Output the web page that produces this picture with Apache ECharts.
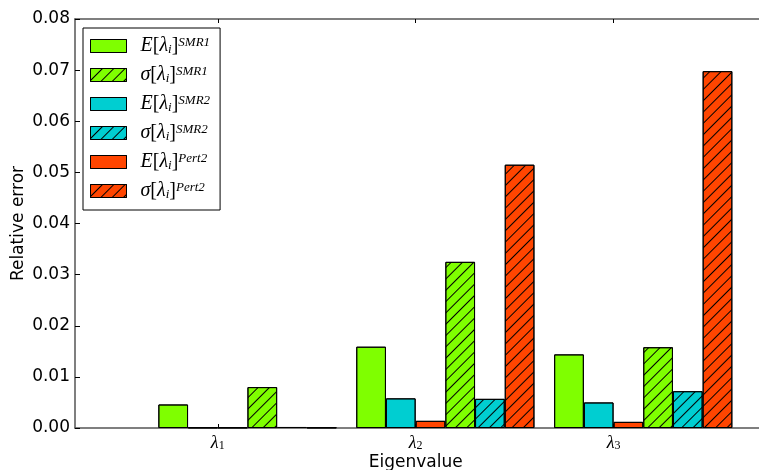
<!DOCTYPE html>
<html><head><meta charset="utf-8">
<script src="https://cdn.jsdelivr.net/npm/echarts@6/dist/echarts.min.js"></script>
<style>html,body{margin:0;padding:0;background:#fff}#c{width:759px;height:470px}</style>
</head><body><div id="c"></div>
<script>
const categories = ['λ1', 'λ2', 'λ3'];
const subscripts = ['1', '2', '3'];
const E_SMR1 = [0.0046, 0.0159, 0.0144];
const E_SMR2 = [0.0001, 0.0058, 0.0050];
const E_Pert2 = [0.0001, 0.0014, 0.0012];
const S_SMR1 = [0.0080, 0.0325, 0.0158];
const S_SMR2 = [0.0002, 0.0057, 0.0072];
const S_Pert2 = [0.0001, 0.0515, 0.0698];

const GREEN = '#7FFF00', CYAN = '#00CED1', RED = '#FF4500';
const SPINE = '#555';
const hatch = {symbol:'rect', symbolSize:1, color:'#000', dashArrayX:[1,0], dashArrayY:[1,7], rotation: -Math.PI/4};
const noHatch = {symbol:'rect', symbolSize:1, color:'rgba(0,0,0,0)', dashArrayX:[1,0], dashArrayY:[1,7]};

const legendText = {
  'E_SMR1': '{sp|}{e|E}{b|[}{l|λ}{s|i}{b|]}{p|SMR1}',
  'S_SMR1': '{sp|}{e|σ}{b|[}{l|λ}{s|i}{b|]}{p|SMR1}',
  'E_SMR2': '{sp|}{e|E}{b|[}{l|λ}{s|i}{b|]}{p|SMR2}',
  'S_SMR2': '{sp|}{e|σ}{b|[}{l|λ}{s|i}{b|]}{p|SMR2}',
  'E_Pert2': '{sp|}{e|E}{b|[}{l|λ}{s|i}{b|]}{p|Pert2}',
  'S_Pert2': '{sp|}{e|σ}{b|[}{l|λ}{s|i}{b|]}{p|Pert2}'
};
const SERIF = 'Liberation Serif';
const rich = {
  sp: {width: 9, lineHeight: 20},
  e: {fontFamily: SERIF, fontStyle: 'italic', fontSize: 20, lineHeight: 20, color:'#000'},
  l: {fontFamily: SERIF, fontStyle: 'italic', fontSize: 20, lineHeight: 20, color:'#000'},
  b: {fontFamily: SERIF, fontSize: 20, lineHeight: 20, color:'#000'},
  s: {fontFamily: SERIF, fontStyle: 'italic', fontSize: 13, lineHeight: 11, verticalAlign: 'bottom', color:'#000'},
  p: {fontFamily: SERIF, fontStyle: 'italic', fontSize: 13, lineHeight: 13, verticalAlign: 'top', color:'#000'}
};

function mk(name, data, color, decal) {
  return {
    name: name, type: 'bar', xAxisIndex: 1, yAxisIndex: 1, data: data,
    barWidth: 29.7, barGap: '0%',
    itemStyle: {color: color, borderColor: '#000', borderWidth: 1, decal: decal || noHatch},
    emphasis: {disabled: true}, animation: false
  };
}

const chart = echarts.init(document.getElementById('c'), null, {renderer: 'canvas'});
chart.setOption({
  animation: false,
  aria: {enabled: true, decal: {show: true}},
  grid: [
    {left: 75, top: 19, right: -6, bottom: 42, outerBoundsMode: 'none', containLabel: false},
    {left: 148.5, top: 19, width: 593.7, bottom: 42, outerBoundsMode: 'none', containLabel: false},
    {left: 118.8, top: 19, width: 593.7, bottom: 42, outerBoundsMode: 'none', containLabel: false}
  ],
  xAxis: [
    {gridIndex: 0, type: 'value', min: 0, max: 1, position: 'bottom', axisLine: {show: true, lineStyle: {color: SPINE, width: 1.5}}, axisTick: {show: false}, axisLabel: {show: false}, splitLine: {show: false}},
    {gridIndex: 1, type: 'category', data: categories, axisLine: {show: false}, axisTick: {show: false}, axisLabel: {show: false}},
    {gridIndex: 2, type: 'category', data: categories, position: 'bottom',
      axisLine: {show: false}, axisTick: {show: true, inside: true, length: 4, alignWithLabel: true, lineStyle: {color: '#000'}},
      axisLabel: {margin: 6, formatter: function(v, i){ return '{l|λ}{s|' + subscripts[i] + '}'; }, rich: {
        l: {fontFamily: SERIF, fontStyle: 'italic', fontSize: 18, lineHeight: 18, color: '#000'},
        s: {fontFamily: SERIF, fontSize: 12, lineHeight: 10, verticalAlign: 'bottom', color: '#000'}
      }},
      name: 'Eigenvalue', nameLocation: 'middle', nameGap: 26, nameMoveOverlap: false,
      nameTextStyle: {fontFamily: 'DejaVu Sans', fontSize: 17, color: '#000'}},
    {gridIndex: 2, type: 'category', data: categories, position: 'top',
      axisLine: {show: false}, axisTick: {show: true, inside: true, length: 4, alignWithLabel: true, lineStyle: {color: '#000'}},
      axisLabel: {show: false}},
    {gridIndex: 0, type: 'value', min: 0, max: 1, position: 'top', axisLine: {show: true, lineStyle: {color: SPINE, width: 1.5}}, axisTick: {show: false}, axisLabel: {show: false}, splitLine: {show: false}}
  ],
  yAxis: [
    {gridIndex: 0, type: 'value', min: 0, max: 0.08, interval: 0.01,
      axisLine: {show: true, lineStyle: {color: SPINE, width: 1.5}}, axisTick: {show: true, inside: true, length: 5, lineStyle: {color: '#000'}},
      splitLine: {show: false},
      axisLabel: {margin: 5, fontFamily: 'DejaVu Sans', fontSize: 17, color: '#000', formatter: function(v){ return v.toFixed(2); }},
      name: 'Relative error', nameLocation: 'middle', nameGap: 48, nameMoveOverlap: false,
      nameTextStyle: {fontFamily: 'DejaVu Sans', fontSize: 17, color: '#000'}},
    {gridIndex: 1, type: 'value', min: 0, max: 0.08, show: false},
    {gridIndex: 2, type: 'value', min: 0, max: 0.08, show: false}
  ],
  legend: {
    left: 83, top: 28, orient: 'vertical', padding: [8, 10, 9, 7],
    itemWidth: 36, itemHeight: 13, itemGap: 9, icon: 'rect',
    itemStyle: {borderWidth: 1, borderColor: '#000'},
    borderColor: '#000', borderWidth: 1, backgroundColor: '#fff',
    data: ['E_SMR1', 'S_SMR1', 'E_SMR2', 'S_SMR2', 'E_Pert2', 'S_Pert2'],
    formatter: function(n){ return legendText[n]; },
    textStyle: {rich: rich},
    selectedMode: false
  },
  series: [
    mk('E_SMR1', E_SMR1, GREEN),
    mk('E_SMR2', E_SMR2, CYAN),
    mk('E_Pert2', E_Pert2, RED),
    mk('S_SMR1', S_SMR1, GREEN, hatch),
    mk('S_SMR2', S_SMR2, CYAN, hatch),
    mk('S_Pert2', S_Pert2, RED, hatch)
  ]
});
</script></body></html>
